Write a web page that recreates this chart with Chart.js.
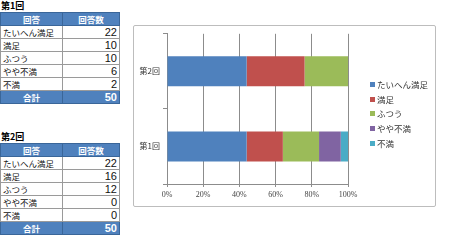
<!DOCTYPE html>
<html>
<head>
<meta charset="utf-8">
<script src="https://cdn.jsdelivr.net/npm/chart.js@4.4.1/dist/chart.umd.min.js"></script>
<style>
body{margin:0;width:473px;height:250px;background:#fff;position:relative;overflow:hidden;font-family:"Noto Sans CJK JP",sans-serif;}
.ttl{position:absolute;left:1px;font-weight:bold;font-size:9px;line-height:10px;color:#000;}
table{position:absolute;left:0;border-collapse:collapse;width:119px;table-layout:fixed;}
td{height:12px;padding:0 2px;border:1px solid #9a9a9a;font-size:8.5px;line-height:12px;white-space:nowrap;overflow:hidden;color:#111;}
td.n{text-align:right;font-family:"Liberation Sans",sans-serif;font-size:11px;}
tr.hd td,tr.tot td{background:#4F81BD;color:#fff;font-weight:bold;text-align:center;border-color:#3a6699;}
tr.tot td.n{text-align:right;}
#box{position:absolute;left:133px;top:25px;width:301px;height:180px;border:1px solid #bdbdbd;border-radius:2px;}
#legend{position:absolute;left:370px;top:78px;font-size:8.5px;color:#333;}
#legend div{height:14.7px;line-height:12px;white-space:nowrap;}
#legend span{display:inline-block;width:5px;height:5px;margin-right:2px;vertical-align:1px;}
</style>
</head>
<body>
<div class="ttl" style="top:1px">第1回</div>
<table id="t1" style="top:12px"></table>
<div class="ttl" style="top:132px">第2回</div>
<table id="t2" style="top:143px"></table>
<div id="box"><canvas id="barChart" width="301" height="180"></canvas></div>
<div id="legend"></div>
<script>
var answers = ['たいへん満足', '満足', 'ふつう', 'やや不満', '不満'];
var rounds = ['第1回', '第2回'];
var round1 = [22, 10, 10, 6, 2];
var round2 = [22, 16, 12, 0, 0];
var colors = ['#4F81BD', '#C0504D', '#9BBB59', '#8064A2', '#4BACC6'];
var xTicks = [0, 20, 40, 60, 80, 100];

function sum(a){ return a.reduce(function(s, v){ return s + v; }, 0); }

function buildTable(id, counts){
	var t = document.getElementById(id);
	var html = '<colgroup><col style="width:62px"><col style="width:57px"></colgroup>';
	html += '<tr class="hd"><td>回答</td><td>回答数</td></tr>';
	for (var i = 0; i < answers.length; i++) {
		html += '<tr><td>' + answers[i] + '</td><td class="n">' + counts[i] + '</td></tr>';
	}
	html += '<tr class="tot"><td>合計</td><td class="n">' + sum(counts) + '</td></tr>';
	t.innerHTML = html;
}

function buildBars(){
	var t1 = sum(round1), t2 = sum(round2);
	var datasets = answers.map(function(a, i){
		return {
			label: a,
			data: [round1[i] / t1 * 100, round2[i] / t2 * 100],
			backgroundColor: colors[i],
			categoryPercentage: 0.8,
			barPercentage: 0.5
		};
	});
	var ctx = document.getElementById('barChart');
	var chart = new Chart(ctx, {
		type: 'bar',
		data: { labels: rounds, datasets: datasets },
		options: {
			indexAxis: 'y',
			responsive: false,
			animation: false,
			layout: { padding: { top: 7, right: 87, bottom: 0, left: 0 } },
			plugins: { legend: { display: false }, tooltip: { enabled: false } },
			scales: {
				x: {
					stacked: true, min: 0, max: 100,
					afterBuildTicks: function(s){ s.ticks = xTicks.map(function(v){ return { value: v }; }); },
					afterFit: function(s){ s.height = 22; },
					ticks: {
						callback: function(v){ return v + '%'; },
						font: { family: 'Liberation Serif', size: 8 }, color: '#444', padding: 3
					},
					grid: { color: '#8c8c8c', tickLength: 3 },
					border: { color: '#8c8c8c' }
				},
				y: {
					stacked: true, reverse: true,
					afterFit: function(s){ s.width = 33; },
					ticks: { font: { family: 'Noto Sans CJK JP', size: 8 }, color: '#333', padding: 3 },
					grid: { offset: true, drawOnChartArea: false, tickLength: 4, color: '#8c8c8c' },
					border: { color: '#8c8c8c' }
				}
			}
		}
	});
	return chart;
}

buildTable('t1', round1);
buildTable('t2', round2);
var barChart = buildBars();

var leg = document.getElementById('legend');
barChart.data.datasets.forEach(function(d){
	leg.innerHTML += '<div><span style="background:' + d.backgroundColor + '"></span>' + d.label + '</div>';
});
</script>
</body>
</html>
